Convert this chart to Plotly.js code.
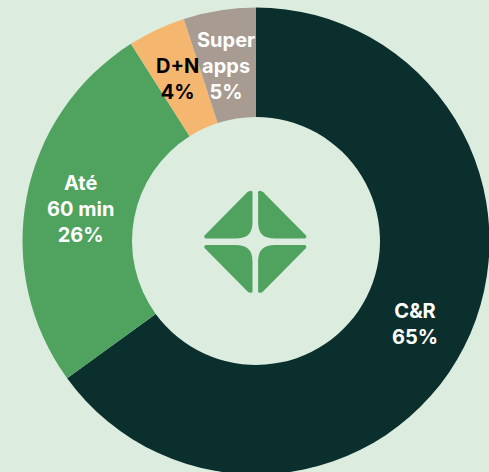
<!DOCTYPE html>
<html>
<head>
<meta charset="utf-8">
<script src="https://cdn.plot.ly/plotly-3.0.1.min.js"></script>
<style>html,body{margin:0;padding:0;overflow:hidden;width:489px;height:472px;background:#dcede0}</style>
</head>
<body>
<div id="chart"></div>
<script>
const categories = ["C&R", "Até 60 min", "D+N", "Super apps"];
const values = [65, 26, 4, 5];
const colors = ["#0a2f2d", "#4fa35f", "#f5b76f", "#a89b91"];
const labelLines = ["C&R<br>65%", "Até<br>60 min<br>26%", "D+N<br>4%", "Super<br>apps<br>5%"];
const labelColors = ["#ffffff", "#ffffff", "#000000", "#ffffff"];
const labelX = [414.5, 80, 177, 226];
const labelY = [323.5, 209, 79.5, 66];

const W = 512, H = 482;
const logoColor = "#4fa35f";
const quadrant = (sx, sy) => {
  const p = (x, y) => `${x * sx} ${y * sy}`;
  return `M ${p(2.8, 20)} L ${p(2.8, 49.5)} Q ${p(2.8, 51)} ${p(4.5, 51)} Q ${p(6.5, 51)} ${p(8, 49.5)} ` +
         `L ${p(50.5, 6.5)} Q ${p(52, 4)} ${p(49.5, 3.2)} L ${p(20, 3.2)} C ${p(8, 3.2)} ${p(2.8, 8)} ${p(2.8, 20)} Z`;
};
const shapes = [[1, 1], [-1, 1], [-1, -1], [1, -1]].map(([sx, sy]) => ({
  type: "path", xref: "paper", yref: "paper",
  xsizemode: "pixel", ysizemode: "pixel",
  xanchor: 255.3 / W, yanchor: 1 - 241.7 / H,
  path: quadrant(sx, sy),
  fillcolor: logoColor, line: { width: 0 }
}));

Plotly.newPlot("chart", [{
  type: "pie",
  labels: categories,
  values: values,
  sort: false,
  direction: "clockwise",
  rotation: 0,
  hole: 0.531,
  textinfo: "none",
  marker: { colors: colors, line: { width: 0 } },
  domain: { x: [0, 1], y: [7.5 / H, 474.5 / H] }
}], {
  width: W, height: H,
  margin: { l: 0, r: 0, t: 0, b: 0 },
  paper_bgcolor: "#dcede0",
  showlegend: false,
  shapes: shapes,
  annotations: labelLines.map((t, i) => ({
    text: "<b>" + t + "</b>",
    xref: "paper", yref: "paper",
    x: labelX[i] / W, y: 1 - labelY[i] / H,
    xanchor: "center", yanchor: "middle",
    showarrow: false,
    align: "center",
    font: { family: "Inter, sans-serif", size: 20, color: labelColors[i] }
  }))
}, { displayModeBar: false, staticPlot: true });
</script>
</body>
</html>
